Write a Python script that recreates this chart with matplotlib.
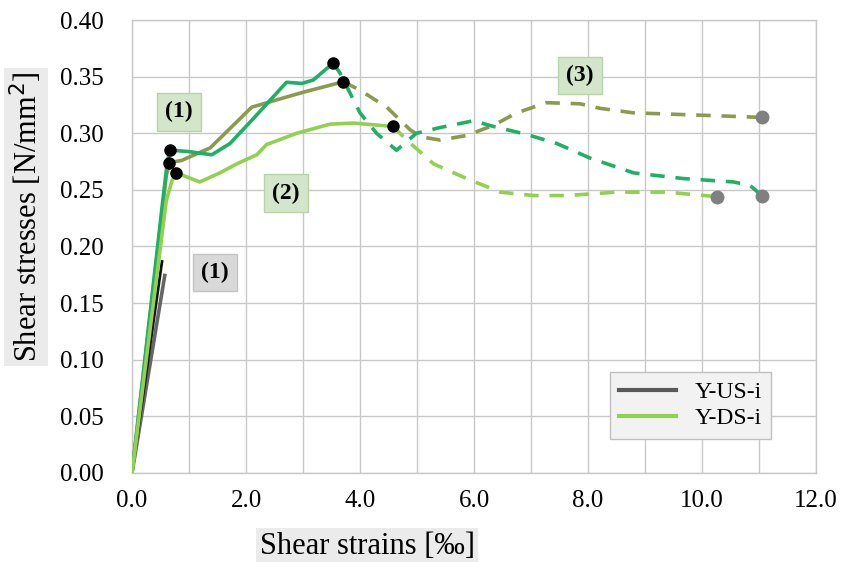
import matplotlib
matplotlib.use("Agg")
import matplotlib.pyplot as plt
from matplotlib.lines import Line2D

plt.rcParams['font.family'] = ['Liberation Serif', 'DejaVu Serif']

# Y-US-i (two specimens, linear until failure)
us1_x = [0.0, 0.53]
us1_y = [0.0, 0.188]
us2_x = [0.0, 0.58]
us2_y = [0.0, 0.176]

# Y-DS-i olive specimen
ol_x = [0.0, 0.55, 0.60, 0.654, 0.87, 1.37, 2.10, 2.71, 3.06, 3.71]
ol_y = [0.0, 0.240, 0.262, 0.274, 0.276, 0.287, 0.323, 0.332, 0.337, 0.3455]
ol_dx = [3.71, 4.0, 4.47, 4.88, 5.06, 5.40, 5.87, 6.34, 6.75, 7.27, 7.86, 8.21, 8.80, 9.96, 11.05]
ol_dy = [0.3455, 0.338, 0.323, 0.303, 0.297, 0.294, 0.298, 0.307, 0.318, 0.327, 0.326, 0.322, 0.318, 0.316, 0.314]

# Y-DS-i teal specimen
te_x = [0.0, 0.55, 0.62, 0.667, 0.96, 1.40, 1.72, 2.13, 2.71, 2.98, 3.18, 3.53]
te_y = [0.0, 0.245, 0.275, 0.285, 0.284, 0.281, 0.291, 0.313, 0.345, 0.344, 0.347, 0.362]
te_dx = [3.53, 3.65, 4.0, 4.29, 4.64, 4.99, 5.40, 5.99, 6.34, 6.92, 7.45, 8.04, 8.80, 9.67, 10.55, 10.84, 11.05]
te_dy = [0.362, 0.353, 0.318, 0.300, 0.285, 0.300, 0.305, 0.311, 0.306, 0.299, 0.291, 0.278, 0.265, 0.260, 0.257, 0.254, 0.245]

# Y-DS-i light green specimen
lg_x = [0.0, 0.60, 0.70, 0.78, 1.19, 1.54, 1.84, 2.19, 2.36, 2.89, 3.47, 3.88, 4.58]
lg_y = [0.0, 0.240, 0.258, 0.265, 0.257, 0.265, 0.273, 0.281, 0.290, 0.300, 0.308, 0.309, 0.306]
lg_dx = [4.58, 4.82, 5.29, 5.87, 6.46, 7.04, 7.63, 8.50, 9.38, 10.26]
lg_dy = [0.306, 0.294, 0.273, 0.260, 0.248, 0.245, 0.245, 0.248, 0.248, 0.244]

x_ticks = [0, 2, 4, 6, 8, 10, 12]
y_ticks = [0.00, 0.05, 0.10, 0.15, 0.20, 0.25, 0.30, 0.35, 0.40]

OLIVE = '#8a9a4e'
TEAL = '#1fb066'
LGREEN = '#92d050'

fig = plt.figure(figsize=(8.43, 5.62), dpi=100)
ax = fig.add_axes([0.1566, 0.1584, 0.8114, 0.806])

ax.set_xlim(0, 12)
ax.set_ylim(0, 0.40)
ax.set_xticks(x_ticks)
ax.set_xticklabels([f"{v:.1f}" for v in x_ticks])
ax.set_xticks(range(0, 13), minor=True)
ax.set_yticks(y_ticks)
ax.set_yticklabels([f"{v:.2f}" for v in y_ticks])
ax.grid(True, which='both', color='#c8c8c8', lw=1.0)
ax.set_axisbelow(True)
ax.tick_params(which='both', length=0, labelsize=18)
ax.tick_params(axis='y', pad=20)
ax.tick_params(axis='x', pad=12)
for s in ax.spines.values():
    s.set_color('#c8c8c8')
    s.set_linewidth(1.0)

lw = 2.6
ax.plot(us2_x, us2_y, color='#666666', lw=lw, solid_capstyle='butt', zorder=3)
ax.plot(us1_x, us1_y, color='#111111', lw=2.0, solid_capstyle='butt', zorder=3)

ax.plot(ol_x, ol_y, color=OLIVE, lw=lw, zorder=3)
ax.plot(ol_dx, ol_dy, color=OLIVE, lw=lw, ls=(0, (4, 3)), zorder=3)
ax.plot(te_x, te_y, color=TEAL, lw=lw, zorder=3)
ax.plot(te_dx, te_dy, color=TEAL, lw=lw, ls=(0, (4, 3)), zorder=3)
ax.plot(lg_x, lg_y, color=LGREEN, lw=lw, zorder=3)
ax.plot(lg_dx, lg_dy, color=LGREEN, lw=lw, ls=(0, (4, 3)), zorder=3)

# black dots (start/end of solid parts) and grey dots (end of tests)
for xs, ys in [(ol_x, ol_y), (te_x, te_y), (lg_x, lg_y)]:
    ax.plot([xs[3]], [ys[3]], 'o', color='black', ms=8, zorder=5)
    ax.plot([xs[-1]], [ys[-1]], 'o', color='black', ms=8, zorder=5)
for xs, ys in [(ol_dx, ol_dy), (te_dx, te_dy), (lg_dx, lg_dy)]:
    ax.plot([xs[-1]], [ys[-1]], 'o', color='#808080', ms=9, zorder=5)

gbox = dict(boxstyle='square,pad=0.35', fc='#d4e6c9', ec='#b9d2ab', lw=1)
grbox = dict(boxstyle='square,pad=0.35', fc='#d9d9d9', ec='#c4c4c4', lw=1)
ax.text(0.82, 0.319, '(1)', fontsize=17, fontweight='bold', ha='center', va='center', bbox=gbox, zorder=6)
ax.text(2.70, 0.247, '(2)', fontsize=17, fontweight='bold', ha='center', va='center', bbox=gbox, zorder=6)
ax.text(7.86, 0.351, '(3)', fontsize=17, fontweight='bold', ha='center', va='center', bbox=gbox, zorder=6)
ax.text(1.46, 0.177, '(1)', fontsize=17, fontweight='bold', ha='center', va='center', bbox=grbox, zorder=6)

ax.set_xlabel('Shear strains [‰]', fontsize=22,
              bbox=dict(boxstyle='square,pad=0.12', fc='#ebebeb', ec='none'))
ax.xaxis.label.set_va('center')
ax.xaxis.set_label_coords(0.344, -0.162)
ax.set_ylabel('Shear stresses [N/mm$^2$]', fontsize=22,
              bbox=dict(boxstyle='square,pad=0.12', fc='#ebebeb', ec='none'))
ax.yaxis.label.set_va('center')
ax.yaxis.set_label_coords(-0.155, 0.565)

handles = [Line2D([0], [0], color='#595959', lw=3),
           Line2D([0], [0], color=LGREEN, lw=3)]
leg = ax.legend(handles, ['Y-US-i', 'Y-DS-i'], loc='lower right',
                bbox_to_anchor=(0.952, 0.05), fontsize=17, frameon=True,
                fancybox=False, handlelength=2.4, borderpad=0.4, labelspacing=0.2)
leg.get_frame().set_facecolor('#f2f2f2')
leg.get_frame().set_edgecolor('#bfbfbf')
leg.get_frame().set_alpha(1)

fig.savefig('out.png', dpi=100)
